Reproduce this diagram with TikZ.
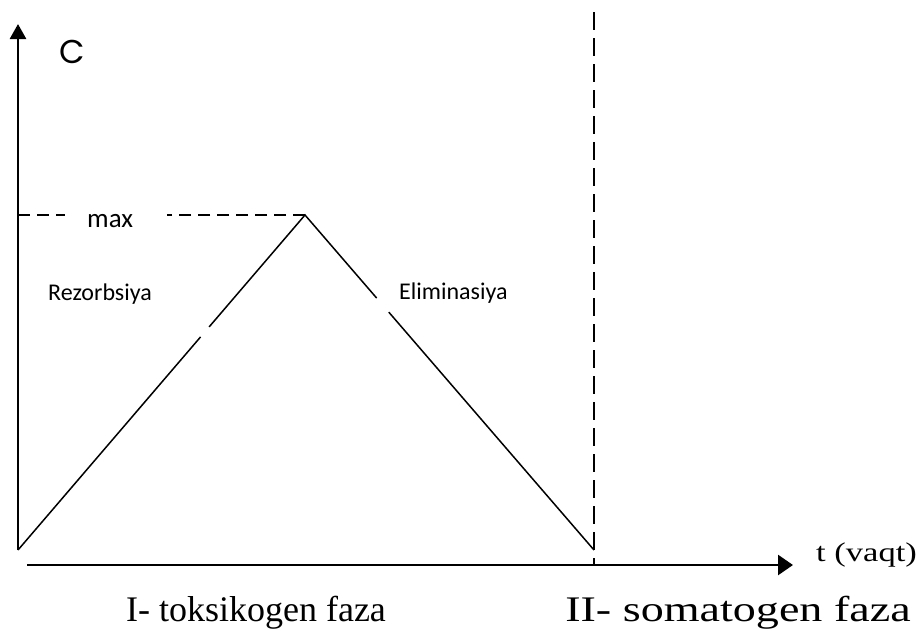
\documentclass[tikz,border=0pt]{standalone}
\usepackage{fontspec}
\setmainfont{Liberation Serif}
\newfontfamily\calibri{Carlito}
\newfontfamily\gothic{Poppins}
\newfontfamily\widetimes[FakeStretch=1.28]{Liberation Serif}
\usetikzlibrary{arrows.meta, calc, positioning}

\begin{document}
\begin{tikzpicture}[
        x=1pt, y=-1pt,
        axis/.style={line width=2.6pt, -{Triangle[length=15pt, width=16pt]}},
        curve/.style={line width=1.5pt},
        guide/.style={line width=1.5pt, dash pattern=on 12pt off 7pt},
        vguide/.style={line width=1.5pt, dash pattern=on 18pt off 8pt},
        lbl/.style={inner sep=0pt, anchor=base west},
        phase/.style={inner sep=0pt, anchor=base, font=\fontsize{36}{40}\selectfont}
    ]
        \useasboundingbox (0,0) rectangle (921,630);

        \coordinate (origin) at (18,550);
        \coordinate (peak) at (305,215);
        \coordinate (foot) at (594,550);
        \coordinate (ytip) at (18,24);
        \coordinate (xstart) at (27,565);
        \coordinate (xtip) at (793,565);
        \coordinate (vtop) at (594,12);
        \coordinate (vbot) at (594,565);
        \coordinate (hstart) at (18,215);

        % axes
        \draw[axis] (origin) -- (ytip);
        \draw[axis, -{Triangle[length=15pt, width=20pt]}] (xstart) -- (xtip);

        % level of max and end of phase I
        \draw[guide] (hstart) -- ++(47,0);
        \draw[guide] (peak) -- ++(-138,0);
        \draw[vguide] (vtop) -- (vbot);

        % rise and fall
        \draw[curve] (origin) -- ($(origin)!0.636!(peak)$);
        \draw[curve] ($(origin)!0.666!(peak)$) -- (peak) -- ($(peak)!0.248!(foot)$);
        \draw[curve] ($(peak)!0.29!(foot)$) -- (foot);

        \node[inner sep=0pt, font=\gothic\fontsize{33}{36}\selectfont] (clbl) at (72,52) {C};
        \node[lbl, font=\calibri\fontsize{27}{30}\selectfont] (maxlbl) at (87,227) {max};
        \node[lbl, font=\calibri\fontsize{24}{28}\selectfont] (rezlbl) at (48,300) {Rezorbsiya};
        \node[lbl, font=\calibri\fontsize{24}{28}\selectfont] (elimlbl) at (399,299) {Eliminasiya};
        \node[lbl, font=\widetimes\fontsize{27}{30}\selectfont] (tlbl) at (816,561) {t (vaqt)};
        \node[phase] (phase1) at (256,621) {I- toksikogen faza};
        \node[phase, font=\widetimes\fontsize{36}{40}\selectfont] (phase2) at (738,621) {II- somatogen faza};
    \end{tikzpicture}
\end{document}
